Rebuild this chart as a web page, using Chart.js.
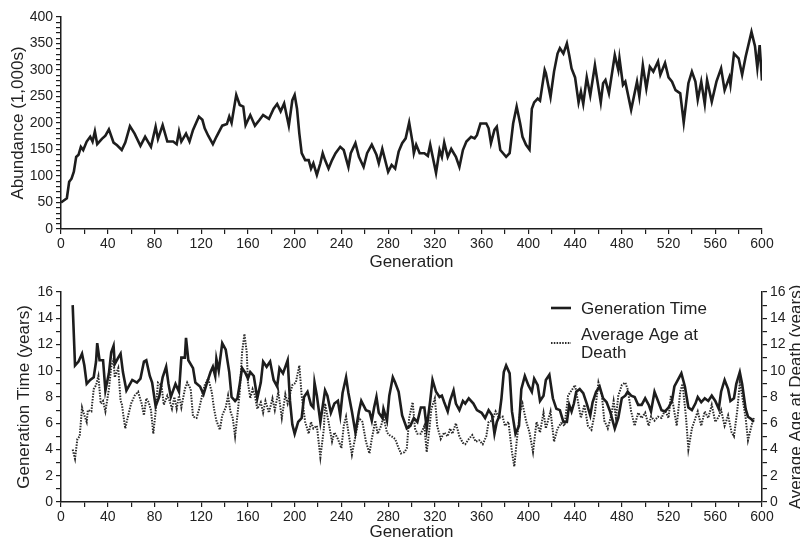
<!DOCTYPE html>
<html>
<head>
<meta charset="utf-8">
<script src="https://cdn.jsdelivr.net/npm/chart.js@4.4.0/dist/chart.umd.min.js"></script>
<style>
html, body { margin:0; padding:0; background:#fff; }
#wrap { position:relative; width:800px; height:540px; overflow:hidden; }
#top { position:absolute; left:0; top:0; }
#bottom { position:absolute; left:0; top:270px; }
</style>
</head>
<body>
<div id="wrap">
  <canvas id="top" width="800" height="270" style="width:800px;height:270px"></canvas>
  <canvas id="bottom" width="806" height="270" style="width:806px;height:270px"></canvas>
</div>
<script>
// --- top panel: abundance by generation ---
const abundanceGen = [0,5,7,9,11,13,15,17,19,22,25,27,29,31,35,38,41,45,48,52,55,59,63,68,72,77,81,83,87,91,96,99,101,103,107,110,113,118,121,123,126,130,133,138,142,144,146,150,153,156,158,162,166,170,173,178,182,185,188,191,195,198,200,202,204,206,209,212,214,216,219,222,224,226,229,232,235,239,242,246,248,252,255,259,262,266,270,272,275,280,283,286,289,292,295,298,301,302,304,307,311,314,316,321,324,326,328,331,334,338,341,344,347,351,354,356,359,364,366,368,371,373,376,381,384,387,390,393,395,398,401,403,405,408,410,414,415,419,422,425,427,430,433,435,437,440,443,445,447,450,453,457,462,464,466,469,474,477,478,481,483,488,493,495,498,501,504,507,511,513,517,520,523,526,530,533,537,540,543,545,548,551,553,557,561,565,568,572,573,576,580,583,586,591,594,596,598,600];
const abundance = [50,58,89,95,108,136,140,155,149,165,174,165,184,160,170,176,188,163,158,149,163,194,180,157,174,155,193,170,196,165,165,160,184,165,180,165,187,212,206,190,176,160,174,195,198,212,200,253,234,231,196,215,195,206,215,208,227,236,222,237,195,243,253,227,180,143,130,130,114,124,102,124,143,130,114,130,143,155,149,117,143,162,136,117,143,159,140,124,151,108,121,114,146,162,171,201,162,143,159,143,143,138,159,106,149,136,163,136,151,136,117,149,165,174,171,177,199,199,190,162,187,193,149,136,143,199,231,199,174,159,150,227,239,246,242,300,294,249,297,331,341,331,350,328,303,286,239,259,236,286,252,309,239,275,281,256,328,300,322,272,278,225,278,250,309,265,306,297,316,291,313,286,278,262,256,201,275,297,278,244,278,236,281,240,278,303,262,286,272,331,322,291,325,372,345,304,347,280];

// --- bottom panel: generation time and average age at death ---
const genTimeGen = [10,12,15,18,20,22,25,28,30,31,33,36,38,41,43,45,46,49,51,53,56,61,65,68,71,73,76,78,81,84,87,90,92,94,98,101,103,106,107,109,113,115,119,122,125,128,130,132,133,135,138,141,144,146,149,151,153,155,158,160,162,165,168,171,173,176,179,182,185,187,190,192,194,196,198,200,203,206,208,211,214,216,217,219,222,226,228,231,234,237,239,241,244,246,249,252,255,257,261,264,266,268,270,272,275,276,279,281,284,286,289,292,296,299,302,305,308,311,313,316,318,321,324,326,328,331,333,336,338,341,344,346,349,353,356,360,363,366,369,371,373,375,377,379,381,384,386,389,392,394,397,400,403,405,408,410,413,415,418,421,424,427,430,433,435,437,439,441,444,447,450,453,455,458,461,464,467,470,474,477,480,483,485,488,491,494,497,500,503,505,508,511,514,517,520,523,525,528,531,534,537,540,543,545,548,551,554,557,560,563,565,568,571,573,576,578,581,583,586,588,591,593];
const genTime = [15.0,10.4,10.7,11.3,10.4,9.0,9.3,9.5,10.7,12.1,10.8,10.8,8.5,9.8,11.4,11.9,10.5,11.0,11.3,9.9,8.5,9.3,9.1,9.4,10.7,10.8,9.6,9.1,7.3,8.0,9.5,10.3,9.0,8.0,9.0,8.4,11.0,11.0,12.5,10.8,10.2,9.1,8.8,8.2,9.1,9.9,10.3,9.6,10.9,10.0,12.1,11.6,9.9,8.0,7.7,7.9,9.0,10.2,9.8,9.4,9.9,9.6,7.9,9.1,10.7,10.3,10.7,9.3,8.8,10.2,9.8,10.3,10.8,7.7,5.9,5.2,6.1,6.4,8.0,8.4,7.4,7.2,9.1,8.1,6.1,8.5,8.1,6.8,7.5,7.7,6.6,8.3,9.5,8.3,6.9,5.3,6.9,7.7,7.0,6.9,6.2,7.2,8.0,6.8,6.4,7.1,6.2,8.1,9.5,9.1,8.4,6.6,5.6,5.8,6.4,6.1,7.2,7.2,5.6,7.7,9.3,8.4,8.0,8.1,7.6,6.9,7.7,8.5,7.5,7.0,7.7,7.5,7.9,7.5,7.0,6.8,6.4,7.0,6.6,5.2,6.1,6.5,7.9,9.9,10.4,9.8,6.9,5.2,5.8,8.6,9.6,8.9,8.4,9.4,8.9,7.7,8.1,9.3,9.7,7.9,7.1,7.0,6.1,6.1,7.4,6.9,7.5,8.4,8.6,8.3,7.5,6.6,7.6,8.4,8.8,7.9,7.6,6.9,5.6,6.4,7.9,8.1,8.4,8.1,8.0,7.4,7.4,7.9,7.4,6.9,8.4,7.7,7.0,6.9,7.2,7.7,8.8,9.3,9.8,8.8,7.2,7.0,7.5,8.0,7.6,7.9,7.7,8.1,7.7,7.1,8.4,9.3,8.6,7.7,7.9,9.0,9.9,9.0,7.1,6.5,6.3,6.1];

const ageGen = [10,12,14,16,18,20,22,23,26,28,30,32,34,36,38,41,43,45,46,49,51,52,55,57,60,63,66,69,71,73,75,77,79,81,83,86,88,91,93,95,97,99,101,103,106,108,111,113,116,118,121,123,126,129,131,133,136,138,141,143,145,147,149,151,153,155,157,159,160,162,164,166,168,171,173,175,178,181,183,186,189,192,194,198,201,204,206,209,212,214,216,219,222,225,226,229,232,234,237,240,242,244,246,249,252,255,258,261,264,266,269,271,274,276,279,281,283,286,289,291,294,296,298,301,303,305,308,311,313,315,317,320,322,325,328,331,333,335,338,341,344,346,349,352,355,358,361,364,366,369,372,375,378,380,383,386,388,390,393,395,398,401,404,407,410,413,415,419,422,425,428,431,434,437,440,443,445,448,451,454,457,460,463,465,468,471,473,475,477,480,483,485,488,491,494,497,500,503,505,508,511,514,517,520,522,524,527,530,532,535,537,540,543,545,548,551,554,557,560,563,565,568,571,574,576,579,581,583,586,588,591,593];
const ageAtDeath = [4.0,3.3,4.8,5.0,7.2,6.6,6.1,7.0,6.9,8.6,8.9,9.6,7.5,7.7,6.9,8.6,10.3,10.9,9.5,10.2,7.7,7.5,5.6,6.4,7.5,8.1,8.4,7.5,6.6,7.9,7.6,7.0,5.2,6.9,9.1,8.9,7.4,8.1,7.7,7.1,8.0,7.1,8.1,7.2,8.6,9.1,8.6,6.5,6.4,7.0,8.2,8.9,9.4,8.4,7.1,6.2,5.5,6.6,7.2,8.1,6.9,6.4,5.0,6.6,8.4,11.4,12.8,11.4,9.1,7.9,8.6,8.1,7.1,7.6,6.8,7.7,6.8,7.9,7.0,8.4,6.4,8.2,7.5,8.9,9.1,10.4,8.1,6.1,5.2,6.1,5.6,5.8,3.4,5.6,7.5,6.1,4.6,5.3,4.8,4.1,5.8,6.5,5.3,3.6,5.0,6.4,6.1,4.6,3.7,4.8,6.2,5.2,5.8,6.5,5.3,5.1,5.0,4.8,4.1,3.7,3.8,4.1,6.4,7.6,5.6,5.2,5.2,5.8,3.8,5.3,7.1,7.9,5.8,4.8,5.3,5.0,5.6,5.2,6.0,5.0,4.5,4.4,4.8,5.1,4.6,4.7,4.4,5.0,6.1,6.2,6.9,6.4,6.5,5.8,6.1,3.8,2.7,4.6,6.9,7.5,6.2,5.3,3.8,6.1,5.3,6.8,5.6,6.9,4.6,5.6,6.0,5.8,8.1,8.5,8.9,7.4,6.4,7.4,5.8,5.5,6.8,9.1,8.1,6.2,5.6,6.6,7.7,6.4,8.1,8.9,9.1,8.6,6.9,5.8,6.8,6.4,6.8,5.8,6.5,6.2,6.5,6.4,7.0,6.4,8.1,7.4,5.8,8.4,9.0,6.4,4.0,5.6,6.4,6.9,5.8,6.9,6.4,7.4,6.1,6.5,7.0,5.8,6.6,5.3,5.0,7.1,9.1,8.1,6.4,4.7,5.8,6.4];

const seriesNames = ['Generation Time', 'Average Age at Death'];
const legendLines = [['Generation Time'], ['Average Age at', 'Death']];

const INK = '#1d1d1d';
const FONT = '"Liberation Sans", Arial, Helvetica, sans-serif';
Chart.defaults.font.family = FONT;
Chart.defaults.font.size = 14;
Chart.defaults.color = '#222';

function pts(xs, ys) { return xs.map((x, i) => ({ x: x, y: ys[i] })); }

function genAxis(h) {
  return {
    type: 'linear', min: 0, max: 600,
    ticks: { stepSize: 20, autoSkip: false, maxRotation: 0, padding: 2,
      callback: v => (v % 40 === 0 ? v : '') },
    grid: { drawOnChartArea: false, tickLength: 5, color: INK, lineWidth: 1.2 },
    border: { color: INK, width: 1.5 },
    title: { display: true, text: 'Generation', font: { size: 17 }, padding: { top: 0, bottom: -3 }, color: '#222' },
    afterFit: s => { s.height = h; }
  };
}

function valueAxis(pos, max, step, every, w, titleText, titlePad) {
  return {
    position: pos, min: 0, max: max,
    ticks: { stepSize: step, autoSkip: false, padding: 3,
      callback: v => (v % every === 0 ? v : '') },
    grid: { drawOnChartArea: false, tickLength: 5, color: INK, lineWidth: 1.2 },
    border: { color: INK, width: 1.5 },
    title: { display: !!titleText, text: titleText, font: { size: 17 }, padding: titlePad, color: '#222' },
    afterFit: s => { s.width = w; }
  };
}

new Chart(document.getElementById('top'), {
  type: 'line',
  data: { datasets: [{
    label: 'Abundance',
    data: pts(abundanceGen, abundance),
    borderColor: INK, borderWidth: 2.6, pointRadius: 0, tension: 0
  }] },
  options: {
    responsive: false, animation: false,
    layout: { padding: { left: 0, right: 38, top: 17, bottom: 0 } },
    plugins: { legend: { display: false }, tooltip: { enabled: false } },
    scales: {
      x: genAxis(41),
      y: valueAxis('left', 400, 10, 50, 61, 'Abundance (1,000s)', 8)
    }
  }
});

// right axis title reads bottom-to-top, and legend sits inside the plot
const rightTitle = {
  id: 'rightTitle',
  afterDraw(chart) {
    const ctx = chart.ctx, a = chart.chartArea;
    ctx.save();
    ctx.translate(a.right + 34, (a.top + a.bottom) / 2);
    ctx.rotate(-Math.PI / 2);
    ctx.font = '17px ' + FONT;
    ctx.fillStyle = '#222';
    ctx.textAlign = 'center';
    ctx.textBaseline = 'middle';
    ctx.fillText('Average Age at Death (years)', 0, 0);
    ctx.restore();
  }
};

const legendBox = {
  id: 'legendBox',
  afterDatasetsDraw(chart) {
    const ctx = chart.ctx, a = chart.chartArea;
    const x0 = a.right - 211, x1 = a.right - 191, tx = a.right - 181;
    const rows = [a.top + 16, a.top + 51];
    ctx.save();
    ctx.font = '17px ' + FONT;
    ctx.fillStyle = '#222';
    ctx.textAlign = 'left';
    ctx.textBaseline = 'middle';
    chart.data.datasets.forEach((ds, i) => {
      const y = rows[i];
      const lines = legendLines[i];
      ctx.strokeStyle = ds.borderColor;
      ctx.lineWidth = ds.borderWidth;
      ctx.setLineDash(ds.borderDash || []);
      const ly = lines.length > 1 ? y : y;
      ctx.beginPath(); ctx.moveTo(x0, ly); ctx.lineTo(x1, ly); ctx.stroke();
      lines.forEach((t, k) => ctx.fillText(t, tx, y - (lines.length - 1) * 9 + k * 18 + 1));
    });
    ctx.restore();
  }
};

new Chart(document.getElementById('bottom'), {
  type: 'line',
  data: { datasets: [
    { label: seriesNames[0], data: pts(genTimeGen, genTime), yAxisID: 'y',
      borderColor: INK, borderWidth: 2.6, pointRadius: 0, tension: 0 },
    { label: seriesNames[1], data: pts(ageGen, ageAtDeath), yAxisID: 'y2',
      borderColor: '#2a2a2a', borderWidth: 2, borderDash: [1.5, 1.3], pointRadius: 0, tension: 0 }
  ] },
  options: {
    responsive: false, animation: false,
    layout: { padding: { left: 0, right: 0, top: 22, bottom: 0 } },
    plugins: { legend: { display: false }, tooltip: { enabled: false } },
    scales: {
      x: genAxis(38),
      y: valueAxis('left', 16, 1, 2, 61, 'Generation Time (years)', 14),
      y2: valueAxis('right', 16, 1, 2, 44, '', 0)
    }
  },
  plugins: [rightTitle, legendBox]
});
</script>
</body>
</html>
